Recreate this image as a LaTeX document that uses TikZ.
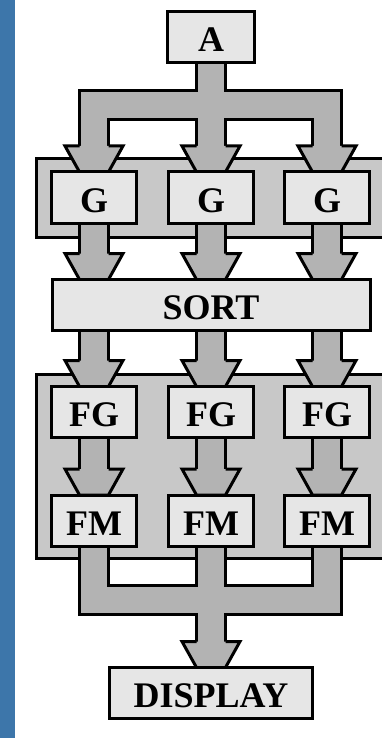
\documentclass[tikz,border=0pt]{standalone}
\usepackage{fontspec}
\setmainfont{Liberation Serif}
\usetikzlibrary{backgrounds}
\definecolor{bleubord}{RGB}{61,118,170}
\definecolor{grisfleche}{RGB}{179,179,179}
\definecolor{grisgroupe}{RGB}{200,200,200}
\definecolor{grisboite}{RGB}{230,230,230}

\begin{document}
\begin{tikzpicture}[x=1pt, y=-1pt]
\tikzset{boite/.style={draw, line width=3pt, fill=grisboite, minimum width=85pt, minimum height=51pt, inner sep=0pt, outer sep=0pt, font=\fontsize{36}{36}\selectfont\bfseries, text height=29pt, text depth=0pt}}
\tikzset{tige/.style={draw=grisfleche, line width=26pt, preaction={draw=black, line width=32pt}}}
\tikzset{tete/.pic={\draw[line width=3pt, fill=grisfleche] (-14.5,-26) -- (-29,-26) -- (-14.5,0) -- (14.5,0) -- (29,-26) -- (14.5,-26);}}
\useasboundingbox (0,0) rectangle (382,738);
\node[boite, minimum width=87pt] (A) at (211,37) {A};
\node[boite] (G1) at (94,197.5) {G};
\node[boite] (G2) at (211,197.5) {G};
\node[boite] (G3) at (327,197.5) {G};
\node[boite, minimum width=318pt] (SORT) at (211,305) {SORT};
\node[boite] (FG1) at (94,412) {FG};
\node[boite] (FG2) at (211,412) {FG};
\node[boite] (FG3) at (327,412) {FG};
\node[boite] (FM1) at (94,520.5) {FM};
\node[boite] (FM2) at (211,520.5) {FM};
\node[boite] (FM3) at (327,520.5) {FM};
\node[boite, minimum width=203pt] (DISPLAY) at (211,693) {DISPLAY};
\begin{scope}[on background layer]
\clip (0,0) rectangle (382,738);
\fill[bleubord] (0,0) rectangle (15,738);
\draw[line width=3pt, fill=grisgroupe] (36.5,158.5) rectangle (400,237.5);
\draw[line width=3pt, fill=grisgroupe] (36.5,374.5) rectangle (400,558.5);
\coordinate (haut) at (211,105);
\coordinate (bas) at (211,600);
\path[tige] (A) -- (G2.north) (haut) -| (G1.north) (haut) -| (G3.north)
  (G1) -- (G1 |- SORT.north) (G2) -- (G2 |- SORT.north) (G3) -- (G3 |- SORT.north)
  (FG1 |- SORT.south) -- (FG1.north) (FG2 |- SORT.south) -- (FG2.north) (FG3 |- SORT.south) -- (FG3.north)
  (FG1) -- (FM1.north) (FG2) -- (FM2.north) (FG3) -- (FM3.north)
  (FM1) |- (bas) (FM3) |- (bas) (FM2) -- (DISPLAY.north);
\pic at (G1.north) {tete};
\pic at (G2.north) {tete};
\pic at (G3.north) {tete};
\pic at (G1 |- SORT.north) {tete};
\pic at (G2 |- SORT.north) {tete};
\pic at (G3 |- SORT.north) {tete};
\pic at (FG1.north) {tete};
\pic at (FG2.north) {tete};
\pic at (FG3.north) {tete};
\pic at (FM1.north) {tete};
\pic at (FM2.north) {tete};
\pic at (FM3.north) {tete};
\pic at (DISPLAY.north) {tete};
\end{scope}
\end{tikzpicture}
\end{document}
